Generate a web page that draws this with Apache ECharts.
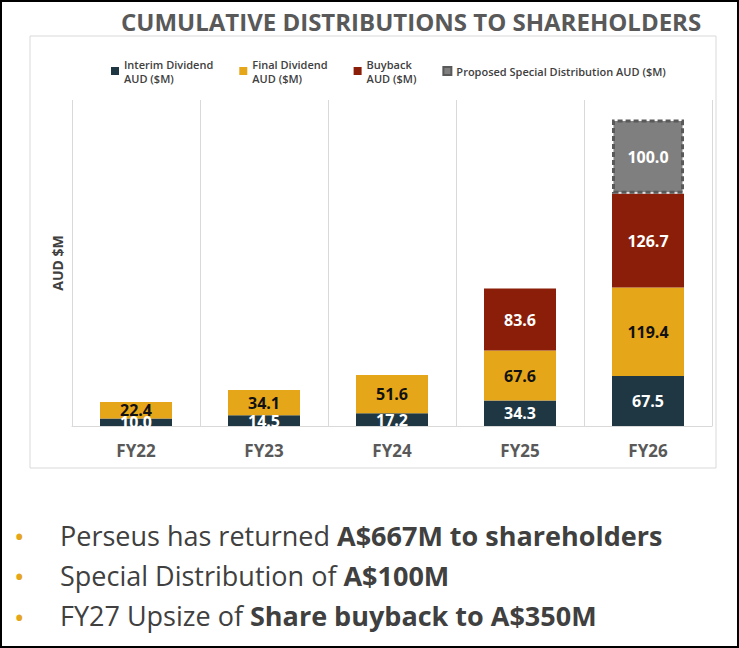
<!DOCTYPE html>
<html><head><meta charset="utf-8">
<script src="https://cdn.jsdelivr.net/npm/echarts@6/dist/echarts.min.js"></script>
<style>html,body{margin:0;padding:0;background:#fff}#c{width:739px;height:648px}</style>
</head><body><div id="c"></div>
<script>
var years = ['FY22', 'FY23', 'FY24', 'FY25', 'FY26'];
var interim = [10.0, 14.5, 17.2, 34.3, 67.5];
var finalDiv = [22.4, 34.1, 51.6, 67.6, 119.4];
var buyback = [null, null, null, 83.6, 126.7];
var special = [null, null, null, null, 100.0];

var chart = echarts.init(document.getElementById('c'), null, { renderer: 'svg' });
var font = 'Open Sans';

function lbl(color) {
  return { show: true, color: color, fontWeight: 'bold', fontSize: 16, fontFamily: font,
    formatter: function(p) { return p.value == null ? '' : p.value.toFixed(1); } };
}

chart.setOption({
  backgroundColor: '#fff',
  animation: false,
  title: {
    text: 'CUMULATIVE DISTRIBUTIONS TO SHAREHOLDERS',
    left: 116, top: 4,
    textStyle: { color: '#595959', fontSize: 24, fontWeight: 'bold', fontFamily: font }
  },
  legend: {
    top: 52, left: 106, itemWidth: 8, itemHeight: 8, itemGap: 26,
    textStyle: { fontSize: 11, color: '#404040', fontWeight: 600, fontFamily: font, lineHeight: 14 },
    data: [
      { name: 'Interim Dividend\nAUD ($M)', icon: 'rect' },
      { name: 'Final Dividend\nAUD ($M)', icon: 'rect' },
      { name: 'Buyback\nAUD ($M)', icon: 'rect' },
      { name: 'Proposed Special Distribution AUD ($M)', icon: 'rect' }
    ]
  },
  grid: { left: 72, right: 27, top: 100, bottom: 222 },
  xAxis: {
    type: 'category', data: years,
    axisTick: { show: false },
    axisLine: { lineStyle: { color: '#d9d9d9' } },
    axisLabel: { color: '#595959', fontSize: 17, fontWeight: 'bold', fontFamily: font, margin: 16 },
    splitLine: { show: true, lineStyle: { color: '#d9d9d9' } }
  },
  yAxis: {
    type: 'value', min: 0, max: 440,
    name: 'AUD $M', nameLocation: 'middle', nameGap: 8, nameRotate: 90,
    nameTextStyle: { color: '#404040', fontSize: 14, fontWeight: 'bold', fontFamily: font },
    axisLabel: { show: false }, axisTick: { show: false }, axisLine: { show: false },
    splitLine: { show: false }
  },
  series: [
    { name: 'Interim Dividend\nAUD ($M)', type: 'bar', stack: 'a', barWidth: 72, data: interim,
      itemStyle: { color: '#1e3743' }, label: lbl('#fff') },
    { name: 'Final Dividend\nAUD ($M)', type: 'bar', stack: 'a', data: finalDiv,
      itemStyle: { color: '#e5a619' }, label: lbl('#111') },
    { name: 'Buyback\nAUD ($M)', type: 'bar', stack: 'a', data: buyback,
      itemStyle: { color: '#8a1e08' }, label: lbl('#fff') },
    { name: 'Proposed Special Distribution AUD ($M)', type: 'bar', stack: 'a', data: special,
      itemStyle: { color: '#7f7f7f', borderColor: '#595959', borderWidth: 3, borderType: [5, 3] },
      label: lbl('#fff') }
  ],
  graphic: [
    { type: 'rect', shape: { x: 1, y: 1, width: 737, height: 646 }, style: { fill: 'none', stroke: '#000', lineWidth: 2 } },
    { type: 'rect', shape: { x: 30, y: 36, width: 686, height: 432 }, style: { fill: 'none', stroke: '#d9d9d9', lineWidth: 1 } },
    { type: 'text', left: 14, top: 522, style: { text: '•', fill: '#e5a619', font: '28px "Open Sans"' } },
    { type: 'text', left: 14, top: 562, style: { text: '•', fill: '#e5a619', font: '28px "Open Sans"' } },
    { type: 'text', left: 14, top: 603, style: { text: '•', fill: '#e5a619', font: '28px "Open Sans"' } },
    { type: 'text', left: 60, top: 522, style: {
      text: 'Perseus has returned {b|A$667M to shareholders}', fill: '#404040', font: '27px "Open Sans"',
      rich: { b: { fontWeight: 'bold', fontSize: 27, fill: '#404040', fontFamily: font } } } },
    { type: 'text', left: 60, top: 562, style: {
      text: 'Special Distribution of {b|A$100M}', fill: '#404040', font: '27px "Open Sans"',
      rich: { b: { fontWeight: 'bold', fontSize: 27, fill: '#404040', fontFamily: font } } } },
    { type: 'text', left: 60, top: 602, style: {
      text: 'FY27 Upsize of {b|Share buyback to A$350M}', fill: '#404040', font: '27px "Open Sans"',
      rich: { b: { fontWeight: 'bold', fontSize: 27, fill: '#404040', fontFamily: font } } } }
  ]
});
</script></body></html>
